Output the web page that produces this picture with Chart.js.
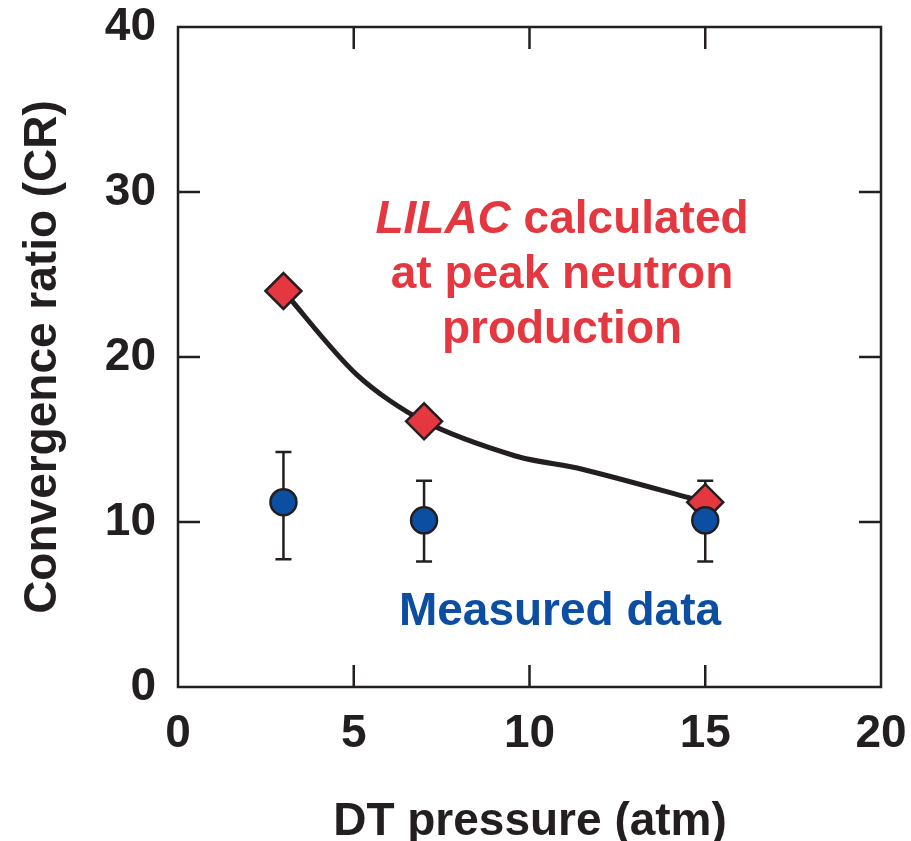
<!DOCTYPE html>
<html>
<head>
<meta charset="utf-8">
<script src="https://cdn.jsdelivr.net/npm/chart.js@4"></script>
<style>
  html, body { margin: 0; padding: 0; background: #fff; }
  #wrap { width: 911px; height: 841px; }
</style>
</head>
<body>
<div id="wrap"><canvas id="crchart" width="911" height="841"></canvas></div>
<script>
const pressure = [3, 7, 15];
const lilacCR = [24, 16.1, 11.2];
const curveX = [3, 5.1, 7, 9.6, 11.5, 15];
const curveY = [24, 18.9, 16.1, 14.0, 13.2, 11.2];
const measuredCR = [11.2, 10.1, 10.1];
const measuredLow = [7.75, 7.6, 7.6];
const measuredHigh = [14.25, 12.5, 12.5];
const xTicks = [0, 5, 10, 15, 20];
const yTicks = [0, 10, 20, 30, 40];

const RED = "#e4373f";
const BLUE = "#0b4ea2";
const INK = "#231f20";
const FONT = "'Liberation Sans', Arial, sans-serif";

const framePlugin = {
  id: "frame",
  beforeDatasetsDraw(chart) {
    const { ctx, scales: { x, y } } = chart;
    // error bars under the markers
    ctx.save();
    ctx.strokeStyle = INK;
    ctx.lineWidth = 2.5;
    pressure.forEach((p, i) => {
      const px = x.getPixelForValue(p);
      const top = y.getPixelForValue(measuredHigh[i]);
      const bot = y.getPixelForValue(measuredLow[i]);
      ctx.beginPath();
      ctx.moveTo(px, top); ctx.lineTo(px, bot);
      ctx.moveTo(px - 8, top); ctx.lineTo(px + 8, top);
      ctx.moveTo(px - 8, bot); ctx.lineTo(px + 8, bot);
      ctx.stroke();
    });
    ctx.restore();
  },
  afterDraw(chart) {
    const { ctx, chartArea: a, scales: { x, y } } = chart;
    ctx.save();
    ctx.strokeStyle = INK;
    ctx.lineWidth = 2.5;
    ctx.strokeRect(a.left, a.top, a.right - a.left, a.bottom - a.top);
    const tl = 22;
    ctx.beginPath();
    xTicks.slice(1, -1).forEach(v => {
      const px = x.getPixelForValue(v);
      ctx.moveTo(px, a.bottom); ctx.lineTo(px, a.bottom - tl);
      ctx.moveTo(px, a.top); ctx.lineTo(px, a.top + tl);
    });
    yTicks.slice(1, -1).forEach(v => {
      const py = y.getPixelForValue(v);
      ctx.moveTo(a.left, py); ctx.lineTo(a.left + tl, py);
      ctx.moveTo(a.right, py); ctx.lineTo(a.right - tl, py);
    });
    ctx.stroke();

    // axis titles
    ctx.fillStyle = INK;
    ctx.textAlign = "center";
    ctx.textBaseline = "alphabetic";
    ctx.font = "bold 46px " + FONT;
    ctx.fillText("DT pressure (atm)", 530, 835);
    ctx.save();
    ctx.translate(56, 357);
    ctx.rotate(-Math.PI / 2);
    ctx.fillText("Convergence ratio (CR)", 0, 0);
    ctx.restore();

    // annotations
    ctx.fillStyle = RED;
    const it = "italic bold 46px " + FONT, bd = "bold 46px " + FONT;
    ctx.font = it; const w1 = ctx.measureText("LILAC").width;
    ctx.font = bd; const w2 = ctx.measureText(" calculated").width;
    let sx = 562 - (w1 + w2) / 2;
    ctx.textAlign = "left";
    ctx.font = it; ctx.fillText("LILAC", sx, 233);
    ctx.font = bd; ctx.fillText(" calculated", sx + w1, 233);
    ctx.textAlign = "center";
    ctx.fillText("at peak neutron", 562, 288);
    ctx.fillText("production", 562, 343);
    ctx.fillStyle = BLUE;
    ctx.fillText("Measured data", 560, 625);
    ctx.restore();
  }
};

new Chart(document.getElementById("crchart"), {
  type: "scatter",
  data: {
    datasets: [
      {
        label: "Measured",
        data: pressure.map((p, i) => ({ x: p, y: measuredCR[i] })),
        backgroundColor: BLUE,
        borderColor: INK,
        borderWidth: 2.5,
        pointRadius: 13,
        pointHoverRadius: 13,
        order: 0
      },
      {
        label: "LILAC",
        data: pressure.map((p, i) => ({ x: p, y: lilacCR[i] })),
        pointStyle: "rectRot",
        backgroundColor: RED,
        borderColor: INK,
        borderWidth: 2.5,
        pointRadius: 18,
        pointHoverRadius: 18,
        order: 1
      },
      {
        label: "curve",
        data: curveX.map((v, i) => ({ x: v, y: curveY[i] })),
        showLine: true,
        borderColor: INK,
        borderWidth: 5,
        pointRadius: 0,
        tension: 0.3,
        order: 2
      }
    ]
  },
  options: {
    responsive: false,
    animation: false,
    layout: { padding: { top: 27, right: 30, left: 0, bottom: 0 } },
    plugins: { legend: { display: false }, tooltip: { enabled: false } },
    scales: {
      x: {
        type: "linear", min: 0, max: 20,
        afterFit: s => { s.height = 154; s.paddingLeft = 0; s.paddingRight = 0; },
        afterBuildTicks: s => { s.ticks = xTicks.map(v => ({ value: v })); },
        grid: { display: false, drawTicks: false },
        border: { display: false },
        ticks: { color: INK, padding: 20, font: { family: FONT, size: 46, weight: "bold" } }
      },
      y: {
        type: "linear", min: 0, max: 40,
        afterFit: s => { s.width = 178; s.paddingTop = 0; s.paddingBottom = 0; },
        afterBuildTicks: s => { s.ticks = yTicks.map(v => ({ value: v })); },
        grid: { display: false, drawTicks: false },
        border: { display: false },
        ticks: { color: INK, padding: 22, font: { family: FONT, size: 46, weight: "bold" } }
      }
    }
  },
  plugins: [framePlugin]
});
</script>
</body>
</html>
